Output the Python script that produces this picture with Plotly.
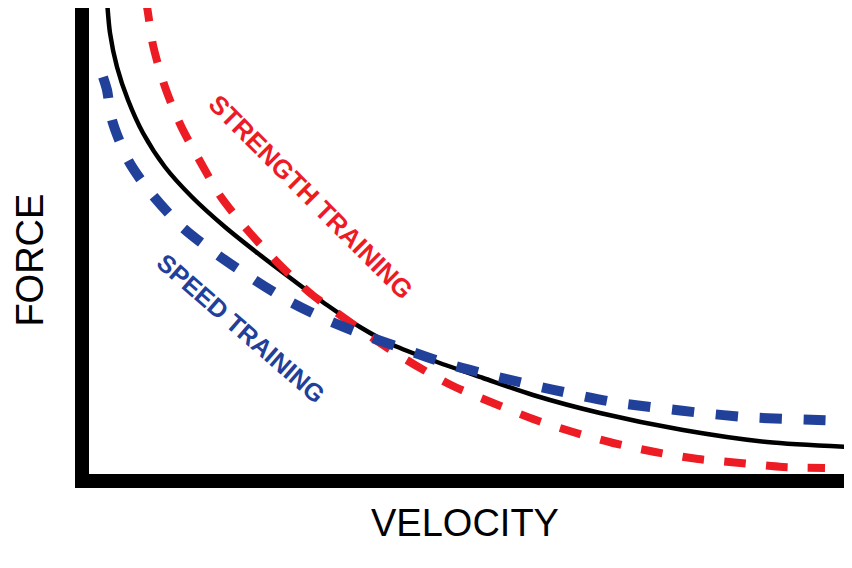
import plotly.graph_objects as go

# Values (arbitrary units: velocity to the right, force upward)
black_v = [18, 21, 28, 39, 54, 76, 103, 136, 171, 204, 238, 271, 304, 348, 394, 444, 511, 594, 678, 763]
black_f = [474, 441, 407, 374, 341, 307, 277, 247, 219, 194, 169, 147, 129, 112, 96, 79, 61, 44, 32, 27]

strength_v = [56, 58, 64, 76, 92, 112, 132, 161, 191, 221, 258, 294, 326, 364, 404, 444, 484, 524, 566, 609, 651, 694, 736]
strength_f = [474, 467, 429, 387, 348, 311, 277, 241, 209, 181, 154, 129, 109, 88, 71, 55, 42, 31, 22, 15, 11, 7, 6]

speed_v = [14, 18, 23, 39, 61, 93, 126, 161, 198, 236, 278, 318, 359, 401, 443, 484, 524, 570, 613, 656, 699, 763]
speed_f = [397, 384, 354, 314, 282, 247, 221, 197, 174, 155, 138, 124, 110, 99, 89, 80, 72, 66, 61, 57, 55, 53]

RED = "#ED1C24"
BLUE = "#21409A"
FONT = "Liberation Sans, Arial, Helvetica, sans-serif"

fig = go.Figure()
fig.add_trace(go.Scatter(x=black_v, y=black_f, mode="lines",
                         line=dict(color="black", width=4.5, shape="spline", smoothing=0.8), hoverinfo="skip"))
fig.add_trace(go.Scatter(x=strength_v, y=strength_f, mode="lines",
                         line=dict(color=RED, width=8, dash="22px,20px", shape="spline", smoothing=0.8), hoverinfo="skip"))
fig.add_trace(go.Scatter(x=speed_v, y=speed_f, mode="lines",
                         line=dict(color=BLUE, width=10, dash="22px,22px", shape="spline", smoothing=0.8), hoverinfo="skip"))

fig.add_annotation(x=222, y=277, xref="x", yref="y", text="<b>STRENGTH TRAINING</b>", textangle=45,
                   showarrow=False, font=dict(family=FONT, size=26, color=RED), xanchor="center", yanchor="middle")
fig.add_annotation(x=152, y=146, xref="x", yref="y", text="<b>SPEED TRAINING</b>", textangle=41,
                   showarrow=False, font=dict(family=FONT, size=25, color=BLUE), xanchor="center", yanchor="middle")
fig.add_annotation(x=-0.0775, y=0.459, xref="paper", yref="paper", text="FORCE", textangle=-90,
                   showarrow=False, font=dict(family=FONT, size=38, color="black"), xanchor="center", yanchor="middle")
fig.add_annotation(x=0.498, y=-0.105, xref="paper", yref="paper", text="VELOCITY",
                   showarrow=False, font=dict(family=FONT, size=38, color="black"), xanchor="center", yanchor="middle")

fig.update_xaxes(range=[0, 755], showgrid=False, zeroline=False, showticklabels=False, ticks="",
                 showline=True, linecolor="black", linewidth=14)
fig.update_yaxes(range=[0, 466], showgrid=False, zeroline=False, showticklabels=False, ticks="",
                 showline=True, linecolor="black", linewidth=14)
fig.update_layout(width=836, height=552, margin=dict(l=81, r=0, t=0, b=86),
                  paper_bgcolor="white", plot_bgcolor="white", showlegend=False)

fig.write_html("out.html")
